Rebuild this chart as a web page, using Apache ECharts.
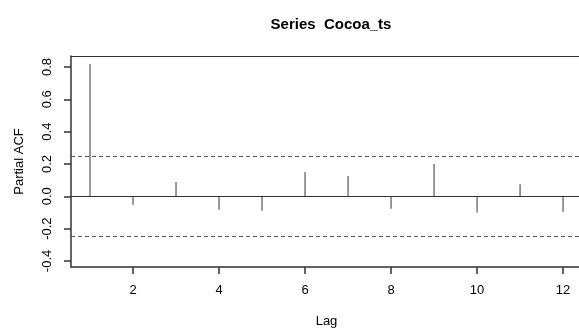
<!DOCTYPE html>
<html>
<head>
<meta charset="utf-8">
<script src="https://cdn.jsdelivr.net/npm/echarts@6/dist/echarts.min.js"></script>
<style>
  html, body { margin: 0; padding: 0; background: #fff; }
  #chart { width: 579px; height: 329px; }
</style>
</head>
<body>
<div id="chart"></div>
<script>
const lags = [1, 2, 3, 4, 5, 6, 7, 8, 9, 10, 11, 12]
const pacf = [0.819, -0.052, 0.088, -0.083, -0.089, 0.150, 0.126, -0.077, 0.200, -0.101, 0.074, -0.095]
const ciLimit = 0.25
const xTicks = [2, 4, 6, 8, 10, 12]
const yTicks = [-0.4, -0.2, 0.0, 0.2, 0.4, 0.6, 0.8]

const font = 'Liberation Sans, Arial, sans-serif'
const lineColor = '#333'
const xMin = 0.558
const xMax = 12.44

const chart = echarts.init(document.getElementById('chart'))

const option = {
  animation: false,
  title: {
    text: 'Series  Cocoa_ts',
    left: 326,
    textAlign: 'center',
    top: 12,
    textStyle: { fontFamily: font, fontSize: 15, fontWeight: 'bold', color: '#000' }
  },
  grid: {
    left: 71,
    top: 56,
    width: 511,
    height: 211,
    outerBoundsMode: 'none',
    containLabel: false,
    show: false
  },
  xAxis: [
    {
      type: 'value',
      position: 'bottom',
      min: xMin,
      max: xMax,
      name: 'Lag',
      nameLocation: 'middle',
      nameGap: 48,
      nameTextStyle: { fontFamily: font, fontSize: 13, color: '#000' },
      axisLine: { show: true, onZero: false, lineStyle: { color: lineColor, width: 1.5 } },
      splitLine: { show: false },
      axisTick: { show: true, length: 7, customValues: xTicks, lineStyle: { color: lineColor, width: 1.5 } },
      axisLabel: {
        customValues: xTicks,
        margin: 17,
        fontFamily: font,
        fontSize: 13,
        color: '#000'
      }
    },
    {
      // top edge of the box
      type: 'value',
      position: 'top',
      min: xMin,
      max: xMax,
      axisLine: { show: true, onZero: false, lineStyle: { color: lineColor, width: 1 } },
      axisTick: { show: false },
      axisLabel: { show: false },
      splitLine: { show: false }
    }
  ],
  yAxis: {
    type: 'value',
    min: -0.4375,
    max: 0.868,
    name: 'Partial ACF',
    nameLocation: 'middle',
    nameRotate: 90,
    nameGap: 45,
    nameTextStyle: { fontFamily: font, fontSize: 13, color: '#000' },
    axisLine: { show: true, onZero: false, lineStyle: { color: lineColor, width: 1.5 } },
    splitLine: { show: false },
    axisTick: { show: true, length: 7, customValues: yTicks, lineStyle: { color: lineColor, width: 1.5 } },
    axisLabel: {
      customValues: yTicks,
      rotate: 90,
      margin: 17,
      fontFamily: font,
      fontSize: 13,
      color: '#000',
      formatter: (v) => v.toFixed(1)
    }
  },
  series: [
    {
      type: 'custom',
      xAxisIndex: 0,
      data: lags.map((l, i) => [l, pacf[i]]),
      renderItem(params, api) {
        const base = api.coord([api.value(0), 0])
        const tip = api.coord([api.value(0), api.value(1)])
        return {
          type: 'line',
          shape: { x1: base[0], y1: base[1], x2: tip[0], y2: tip[1] },
          style: { stroke: '#555', lineWidth: 1.2 }
        }
      },
      markLine: {
        silent: true,
        symbol: 'none',
        label: { show: false },
        data: [
          { yAxis: 0, lineStyle: { type: 'solid', color: lineColor, width: 1.2 } },
          { yAxis: ciLimit, lineStyle: { type: [4, 3], color: '#555', width: 1 } },
          { yAxis: -ciLimit, lineStyle: { type: [4, 3], color: '#555', width: 1 } }
        ]
      }
    }
  ]
}

chart.setOption(option)
</script>
</body>
</html>
